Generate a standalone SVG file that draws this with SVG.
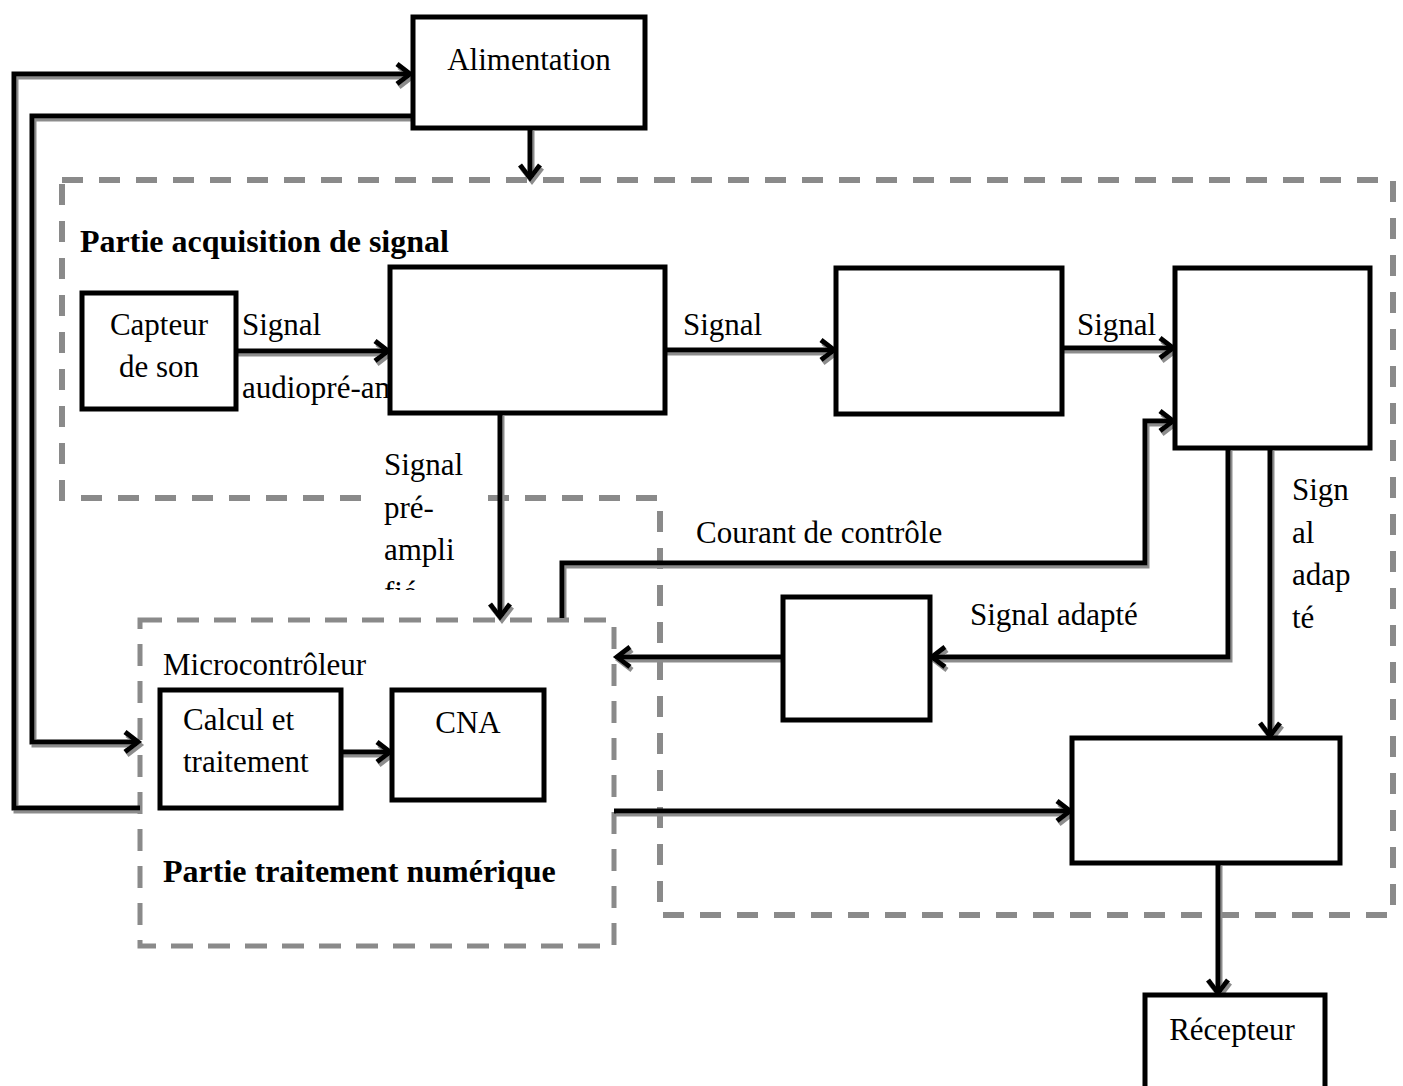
<svg xmlns="http://www.w3.org/2000/svg" width="1403" height="1086" viewBox="0 0 1403 1086">
<style>
  text { font-family: "Liberation Serif", "Times New Roman", serif; font-size: 31px; fill: #000; }
  .b { font-weight: bold; font-size: 32px; }
  .mid { text-anchor: middle; }
  .box { fill: #fff; stroke: #000; stroke-width: 5; }
  .dash { fill: none; stroke: #8a8a8a; stroke-width: 6; stroke-dasharray: 21 16; }
  .dash2 { fill: none; stroke: #8a8a8a; stroke-width: 5; stroke-dasharray: 22 15; }
  .conn path { fill: none; stroke: #000; stroke-width: 5; stroke-linejoin: miter; }
  .arr { marker-end: url(#ah); }
</style>
<defs>
  <marker id="ah" markerUnits="userSpaceOnUse" markerWidth="22" markerHeight="26" refX="17" refY="13" orient="auto">
    <path d="M4,3 L17,13 L4,23" fill="none" stroke="#000" stroke-width="5"/>
  </marker>
  <filter id="sh" x="-5%" y="-5%" width="110%" height="110%">
    <feDropShadow dx="2" dy="3" stdDeviation="0.6" flood-color="#8c8c8c" flood-opacity="1"/>
  </filter>
  <clipPath id="clipFie">
    <rect x="370" y="430" width="120" height="160"/>
  </clipPath>
</defs>
<rect width="1403" height="1086" fill="#fff"/>

<g id="zones">
  <path class="dash" d="M62,180 H1393 V915 H660 V498 H62 Z"/>
  <rect class="dash2" x="140" y="620" width="474" height="326"/>
  <rect x="374" y="448" width="104" height="142" fill="#fff"/>
</g>

<g id="connectors" class="conn" filter="url(#sh)">
  <path class="arr" d="M140,808 H14 V74 H410"/>
  <path class="arr" d="M413,116 H32 V742 H138"/>
  <path class="arr" d="M530,128 V178"/>
  <path class="arr" d="M236,351 H388"/>
  <path class="arr" d="M665,350 H834"/>
  <path class="arr" d="M1062,348 H1173"/>
  <path class="arr" d="M500,413 V617"/>
  <path class="arr" d="M562,618 V563 H1145 V421 H1173"/>
  <path class="arr" d="M1228,448 V657 H932"/>
  <path class="arr" d="M1270,448 V736"/>
  <path class="arr" d="M783,657 H617"/>
  <path class="arr" d="M614,811 H1070"/>
  <path class="arr" d="M1218,863 V993"/>
  <path class="arr" d="M341,752 H390"/>
</g>

<g id="labels">
  <text x="80" y="252" class="b">Partie acquisition de signal</text>
  <text x="242" y="335">Signal</text>
  <text x="242" y="398">audiopré-am</text>
  <text x="683" y="335">Signal</text>
  <text x="1077" y="335">Signal</text>
  <g clip-path="url(#clipFie)">
    <text x="384" y="475">Signal</text>
    <text x="384" y="518">pré-</text>
    <text x="384" y="560">ampli</text>
    <text x="384" y="603">fié</text>
  </g>
  <text x="696" y="543">Courant de contrôle</text>
  <text x="970" y="625">Signal adapté</text>
  <text x="1292" y="500">Sign</text>
  <text x="1292" y="543">al</text>
  <text x="1292" y="585">adap</text>
  <text x="1292" y="628">té</text>
  <text x="163" y="675">Microcontrôleur</text>
  <text x="163" y="882" class="b">Partie traitement numérique</text>
</g>

<g id="alimentation">
  <rect class="box" x="413" y="17" width="232" height="111"/>
  <text x="529" y="70" class="mid">Alimentation</text>
</g>
<g id="capteur">
  <rect class="box" x="82" y="293" width="154" height="116"/>
  <text x="159" y="335" class="mid">Capteur</text>
  <text x="159" y="377" class="mid">de son</text>
</g>
<g id="bloc-a">
  <rect class="box" x="390" y="267" width="275" height="146"/>
</g>
<g id="bloc-b">
  <rect class="box" x="836" y="268" width="226" height="146"/>
</g>
<g id="bloc-c">
  <rect class="box" x="1175" y="268" width="195" height="180"/>
</g>
<g id="bloc-d">
  <rect class="box" x="783" y="597" width="147" height="123"/>
</g>
<g id="bloc-e">
  <rect class="box" x="1072" y="738" width="268" height="125"/>
</g>
<g id="recepteur">
  <rect class="box" x="1145" y="995" width="180" height="110"/>
  <text x="1232" y="1040" class="mid">Récepteur</text>
</g>
<g id="calcul">
  <rect class="box" x="160" y="690" width="181" height="118"/>
  <text x="183" y="730">Calcul et</text>
  <text x="183" y="772">traitement</text>
</g>
<g id="cna">
  <rect class="box" x="392" y="690" width="152" height="110"/>
  <text x="468" y="733" class="mid">CNA</text>
</g>
</svg>
